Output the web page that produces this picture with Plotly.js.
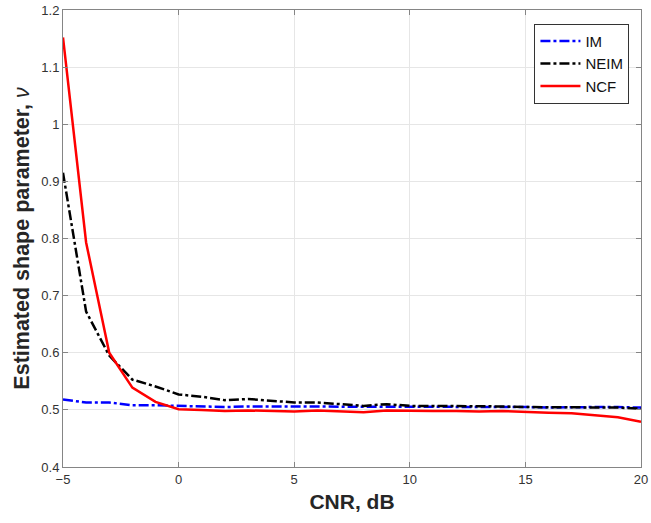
<!DOCTYPE html>
<html><head><meta charset="utf-8">
<script src="https://cdn.plot.ly/plotly-3.0.1.min.js"></script>
<style>body{margin:0;background:#fff}#c{width:651px;height:523px}</style>
</head><body><div id="c"></div>
<script>
const cnr = [-5,-4,-3,-2,-1,0,1,2,3,4,5,6,7,8,9,10,11,12,13,14,15,16,17,18,19,20];
const im = [0.518,0.513,0.513,0.508,0.508,0.507,0.506,0.505,0.506,0.506,0.506,0.506,0.506,0.505,0.506,0.505,0.505,0.505,0.505,0.505,0.505,0.504,0.505,0.505,0.505,0.504];
const neim = [0.915,0.672,0.595,0.553,0.541,0.527,0.523,0.517,0.519,0.516,0.513,0.513,0.510,0.507,0.510,0.507,0.507,0.507,0.506,0.506,0.505,0.505,0.505,0.505,0.504,0.502];
const ncf = [1.152,0.793,0.600,0.539,0.514,0.501,0.500,0.498,0.499,0.498,0.497,0.499,0.498,0.496,0.499,0.498,0.498,0.498,0.497,0.498,0.496,0.495,0.494,0.491,0.487,0.479];
const names = ['IM','NEIM','NCF'];
const font = 'Liberation Sans, Arial, sans-serif';
const dd = '10px,3px,3px,3px';
const traces = [
  {x:cnr,y:im,name:names[0],mode:'lines',line:{color:'#0000ff',width:2.5,dash:dd}},
  {x:cnr,y:neim,name:names[1],mode:'lines',line:{color:'#000000',width:2.5,dash:dd}},
  {x:cnr,y:ncf,name:names[2],mode:'lines',line:{color:'#ff0000',width:2.5}}
];
const ax = {
  showline:true, mirror:'ticks', linecolor:'#858585', linewidth:1,
  ticks:'inside', ticklen:5, tickcolor:'#858585',
  showgrid:true, gridcolor:'#e6e6e6', gridwidth:1, zeroline:false,
  tickfont:{family:font,size:13,color:'#333'}
};
const layout = {
  width:651, height:523,
  margin:{l:63,r:10,t:10,b:56},
  paper_bgcolor:'#fff', plot_bgcolor:'#fff',
  font:{family:font},
  xaxis:Object.assign({}, ax, {range:[-5,20], tickvals:[-5,0,5,10,15,20],
    title:{text:'<b>CNR, dB</b>', font:{family:font,size:21,color:'#262626'}, standoff:8}}),
  yaxis:Object.assign({}, ax, {range:[0.4,1.2], tickvals:[0.4,0.5,0.6,0.7,0.8,0.9,1,1.1,1.2], ticktext:['0.4','0.5','0.6','0.7','0.8','0.9','1','1.1','1.2'],
    title:{text:'<b>Estimated shape parameter, </b><i>ν</i>', font:{family:font,size:21.5,color:'#262626'}, standoff:5}}),
  showlegend:true,
  legend:{x:0.98,y:0.97,xanchor:'right',yanchor:'top',bgcolor:'#fff',bordercolor:'#333',borderwidth:1,
    font:{family:font,size:15,color:'#111'}, tracegroupgap:0, itemwidth:40}
};
Plotly.newPlot('c', traces, layout, {displayModeBar:false, staticPlot:true});
</script></body></html>
